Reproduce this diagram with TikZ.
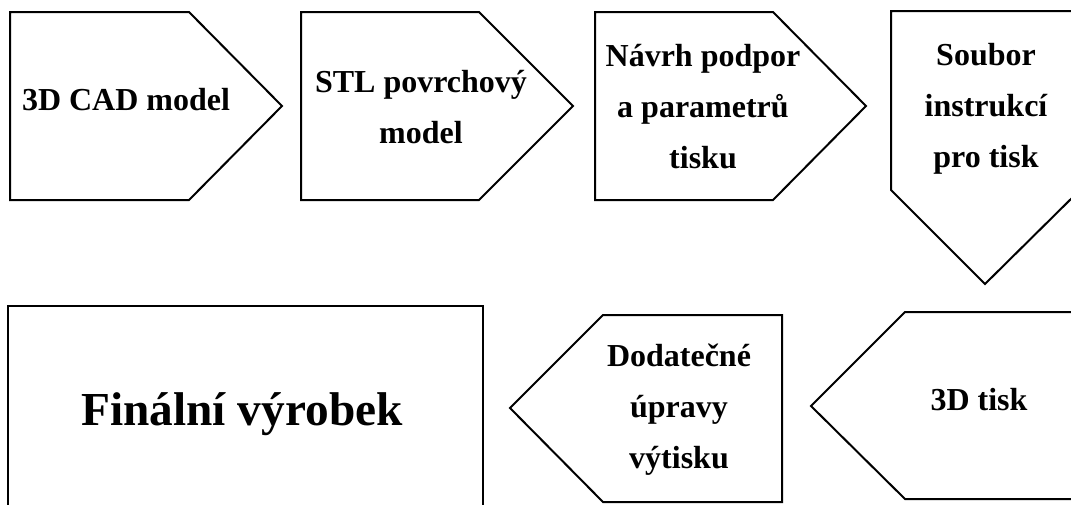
\documentclass[tikz,border=0pt]{standalone}
\usepackage{fontspec}
\setmainfont{Liberation Serif}

\begin{document}
\begin{tikzpicture}[x=0.75pt,y=-0.75pt,
        blok/.style={draw=black, line width=1.5pt, line join=miter},
        popis/.style={font=\bfseries\fontsize{24}{38}\selectfont, align=center, anchor=base, inner sep=0pt}]
            \useasboundingbox (0,0) rectangle (1071,504);
            \clip (0,0) rectangle (1071,504);
            % horni rada
            \draw[blok] (10,12) -- (189,12) -- (282,106) -- (189,200) -- (10,200) -- cycle;
            \draw[blok] (301,12) -- (479,12) -- (573,106) -- (479,200) -- (301,200) -- cycle;
            \draw[blok] (595,12) -- (773,12) -- (866,106) -- (773,200) -- (595,200) -- cycle;
            \draw[blok] (891,11) -- (1080,11) -- (1080,190) -- (985,284) -- (891,190) -- cycle;
            % dolni rada
            \draw[blok] (811,406) -- (905,312) -- (1090,312) -- (1090,499) -- (905,499) -- cycle;
            \draw[blok] (510,408) -- (603,315) -- (782,315) -- (782,502) -- (603,502) -- cycle;
            \draw[blok] (8,306) rectangle (483,520);
            % base = posledni radek
            \node[popis] (cad) at (126,110) {3D CAD model};
            \node[popis] (stl) at (421,143) {STL povrchový\\model};
            \node[popis] (podpory) at (703,168) {Návrh podpor\\a parametrů\\tisku};
            \node[popis] (soubor) at (986,167) {Soubor\\instrukcí\\pro tisk};
            \node[popis] (tisk) at (979,410) {3D tisk};
            \node[popis] (upravy) at (679,468) {Dodatečné\\úpravy\\výtisku};
            \node[popis, font=\bfseries\fontsize{35.5}{40}\selectfont] (vyrobek) at (242,425) {Finální výrobek};
        \end{tikzpicture}
\end{document}
